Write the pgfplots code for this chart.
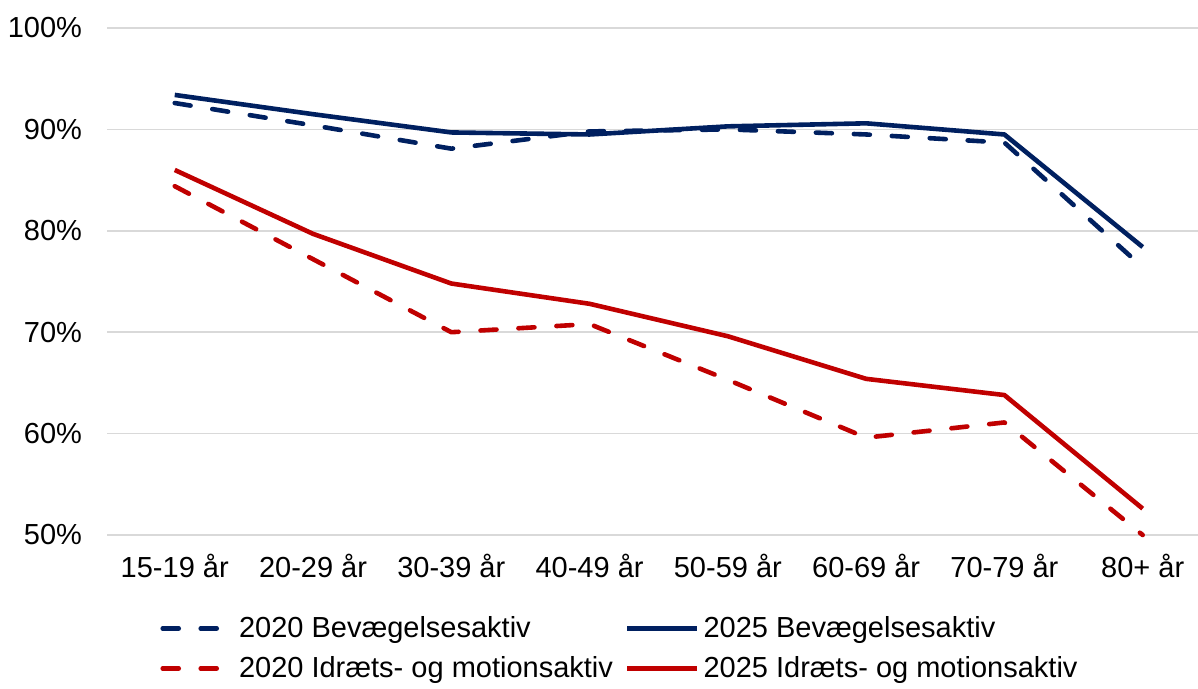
\documentclass[border=0pt]{standalone}
\usepackage{fontspec}
\setmainfont{Liberation Sans}
\usepackage{pgfplots}
\pgfplotsset{compat=1.18}
\definecolor{navy}{HTML}{002060}
\definecolor{dkred}{HTML}{C00000}
\definecolor{gridgray}{HTML}{D9D9D9}
\begin{document}
\begin{tikzpicture}
\begin{axis}[
    width=545.5pt, height=253.5pt, scale only axis,
    xmin=-0.49, xmax=7.4, ymin=50, ymax=100,
    clip=false,
    axis line style={draw=none},
    major tick length=0pt,
    ymajorgrids,
    grid style={gridgray, line width=0.9pt},
    ytick={50,60,...,100},
    yticklabels={50\%,60\%,70\%,80\%,90\%,100\%},
    xtick={0,...,7},
    xticklabels={15-19 år,20-29 år,30-39 år,40-49 år,50-59 år,60-69 år,70-79 år,80+ år},
    tick label style={font=\fontsize{14.5}{17}\selectfont},
    yticklabel style={xshift=-9pt},
    xticklabel style={yshift=-6pt},
    every axis plot/.append style={line width=2.3pt, line join=round},
    legend columns=2,
    legend cell align=left,
    legend style={at={(0.0486,-0.152)}, anchor=north west, draw=none, fill=none,
        inner sep=0pt,
        font=\fontsize{14.5}{17}\selectfont,
        /tikz/every even column/.append style={column sep=4pt},
        /tikz/every odd column/.append style={column sep=0pt},
        row sep=4pt},
    legend image code/.code={\draw[#1] (0pt,0pt) -- (35pt,0pt);},
]
\addplot[navy, dash pattern=on 8pt off 11pt, line cap=round] coordinates {
    (0,92.6) (1,90.4) (2,88.1) (3,89.8) (4,90.0) (5,89.5) (6,88.7) (7,76.4)};
\addlegendentry{2020 Bevægelsesaktiv}
\addplot[navy] coordinates {
    (0,93.4) (1,91.5) (2,89.7) (3,89.5) (4,90.3) (5,90.6) (6,89.5) (7,78.4)};
\addlegendentry{2025 Bevægelsesaktiv}
\addplot[dkred, dash pattern=on 8pt off 11pt, line cap=round] coordinates {
    (0,84.4) (1,77.2) (2,70.0) (3,70.8) (4,65.3) (5,59.6) (6,61.1) (7,50.0)};
\addlegendentry{2020 Idræts- og motionsaktiv}
\addplot[dkred] coordinates {
    (0,86.0) (1,79.7) (2,74.8) (3,72.8) (4,69.6) (5,65.4) (6,63.8) (7,52.6)};
\addlegendentry{2025 Idræts- og motionsaktiv}
\end{axis}
\pgfresetboundingbox
\path (-53.5pt,-77pt) rectangle (545.5pt,267.5pt);
\end{tikzpicture}
\end{document}
